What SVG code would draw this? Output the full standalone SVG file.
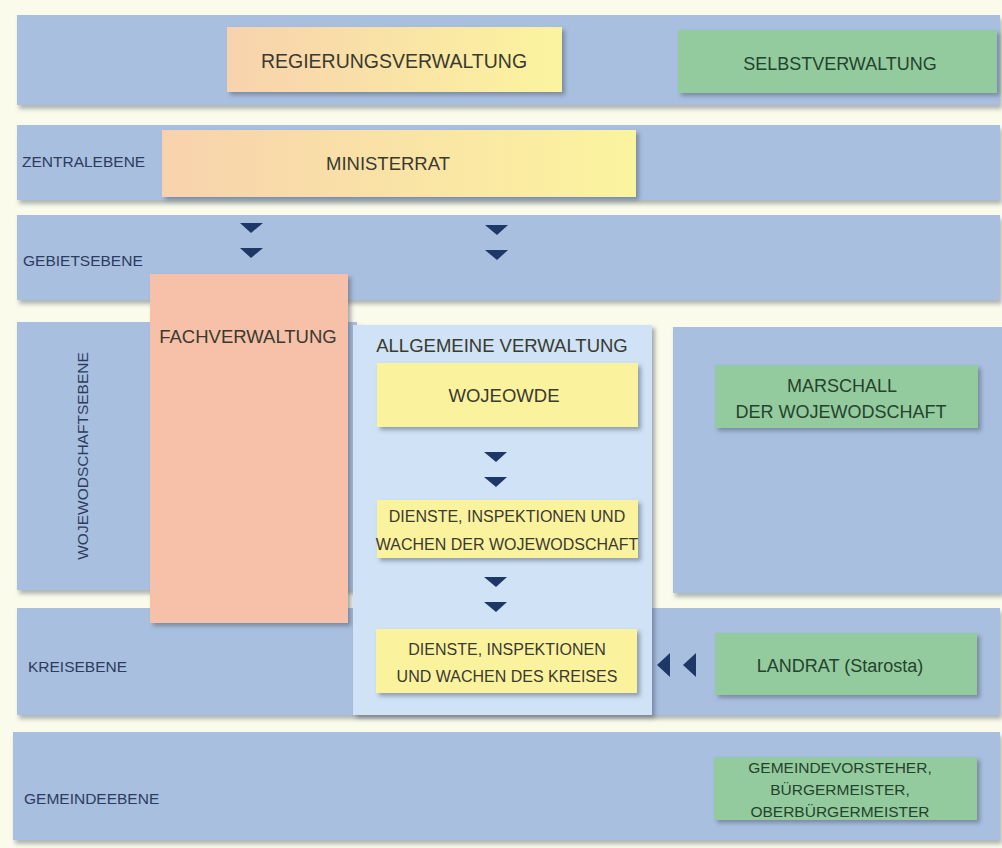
<svg xmlns="http://www.w3.org/2000/svg" width="1002" height="848" viewBox="0 0 1002 848">
<defs>
<filter id="sh" x="-5%" y="-10%" width="115%" height="130%">
<feDropShadow dx="2" dy="4" stdDeviation="2" flood-color="#55606e" flood-opacity="0.45"/>
</filter>
<filter id="shs" x="-5%" y="-10%" width="115%" height="130%">
<feDropShadow dx="3" dy="3" stdDeviation="2" flood-color="#4a5566" flood-opacity="0.5"/>
</filter>
<linearGradient id="gy" x1="0" y1="0" x2="1" y2="0">
<stop offset="0" stop-color="#f8d2ad"/>
<stop offset="1" stop-color="#fbf49e"/>
</linearGradient>
<style>
.band{fill:#a9bfe0;filter:url(#sh)}
.yel{fill:#fbf29e;filter:url(#shs)}
.grn{fill:#94cb9e;filter:url(#shs)}
.lvl{font-family:"Liberation Sans",Arial,sans-serif;font-size:15.5px;fill:#2c3c5e}
.t{font-family:"Liberation Sans",Arial,sans-serif;font-size:18.5px;fill:#3a3a30;text-anchor:middle}
.tg{font-family:"Liberation Sans",Arial,sans-serif;font-size:18px;fill:#24432c;text-anchor:middle}
.ts{font-family:"Liberation Sans",Arial,sans-serif;font-size:16px;fill:#3a3a30;text-anchor:middle}
.tgs{font-family:"Liberation Sans",Arial,sans-serif;font-size:15.5px;fill:#24432c;text-anchor:middle}
.arr{fill:#1d3766}
</style>
</defs>
<rect width="1002" height="848" fill="#fbfbeb"/>
<g id="levels">
<rect class="band" x="17" y="15" width="983" height="90"/>
<rect class="band" x="17" y="125" width="983" height="75"/>
<rect class="band" x="17" y="215" width="983" height="85"/>
<rect class="band" x="17" y="322" width="340" height="268"/>
<rect class="band" x="673" y="327" width="329" height="266"/>
<rect class="band" x="17" y="608" width="983" height="107"/>
<rect class="band" x="13" y="732" width="987" height="108"/>
<text class="lvl" x="22" y="167">ZENTRALEBENE</text>
<text class="lvl" x="23" y="266">GEBIETSEBENE</text>
<text class="lvl" transform="translate(88,456) rotate(-90)" text-anchor="middle">WOJEWODSCHAFTSEBENE</text>
<text class="lvl" x="28" y="672">KREISEBENE</text>
<text class="lvl" x="24" y="804">GEMEINDEEBENE</text>
</g>
<g id="regierungsverwaltung">
<rect x="227" y="27" width="335" height="65" fill="url(#gy)" filter="url(#shs)"/>
<text class="t" x="394" y="68" style="font-size:19.5px">REGIERUNGSVERWALTUNG</text>
</g>
<g id="selbstverwaltung">
<rect class="grn" x="678" y="30" width="319" height="63"/>
<text class="tg" x="840" y="70">SELBSTVERWALTUNG</text>
</g>
<g id="ministerrat">
<rect x="162" y="130" width="474" height="67" fill="url(#gy)" filter="url(#shs)"/>
<text class="t" x="388" y="170">MINISTERRAT</text>
</g>
<g id="fachverwaltung">
<rect x="150" y="274" width="198" height="349" fill="#f6c1a8" filter="url(#shs)"/>
<text class="t" x="248" y="343">FACHVERWALTUNG</text>
</g>
<g id="allgemeine-verwaltung">
<rect x="353" y="325" width="299" height="390" fill="#cfe2f6" filter="url(#shs)"/>
<text class="t" x="502" y="352">ALLGEMEINE VERWALTUNG</text>
</g>
<g id="wojewode">
<rect class="yel" x="377" y="363" width="261" height="64"/>
<text class="t" x="504" y="402">WOJEOWDE</text>
</g>
<g id="dienste-wojewodschaft">
<rect class="yel" x="377" y="500" width="261" height="58"/>
<text class="ts" x="507" y="522">DIENSTE, INSPEKTIONEN UND</text>
<text class="ts" x="507" y="550">WACHEN DER WOJEWODSCHAFT</text>
</g>
<g id="dienste-kreis">
<rect class="yel" x="376" y="629" width="261" height="64"/>
<text class="ts" x="507" y="655">DIENSTE, INSPEKTIONEN</text>
<text class="ts" x="507" y="682">UND WACHEN DES KREISES</text>
</g>
<g id="marschall">
<rect class="grn" x="715" y="365" width="263" height="63"/>
<text class="tg" x="842" y="392">MARSCHALL</text>
<text class="tg" x="841" y="418">DER WOJEWODSCHAFT</text>
</g>
<g id="landrat">
<rect class="grn" x="715" y="633" width="262" height="62"/>
<text class="tg" x="840" y="672">LANDRAT (Starosta)</text>
</g>
<g id="gemeindevorsteher">
<rect class="grn" x="714" y="757" width="263" height="63"/>
<text class="tgs" x="840" y="773">GEMEINDEVORSTEHER,</text>
<text class="tgs" x="840" y="795">BÜRGERMEISTER,</text>
<text class="tgs" x="840" y="817">OBERBÜRGERMEISTER</text>
</g>
<g id="connectors">
<polygon class="arr" points="240,223 263,223 251,233"/>
<polygon class="arr" points="240,248 263,248 251,258"/>
<polygon class="arr" points="485,225 508,225 497,235"/>
<polygon class="arr" points="485,250 508,250 497,260"/>
<polygon class="arr" points="484,452 507,452 496,462"/>
<polygon class="arr" points="484,477 507,477 496,487"/>
<polygon class="arr" points="484,577 507,577 496,587"/>
<polygon class="arr" points="484,602 507,602 496,612"/>
<polygon class="arr" points="670,653 670,677 657,665"/>
<polygon class="arr" points="696,653 696,677 683,665"/>
</g>
</svg>
